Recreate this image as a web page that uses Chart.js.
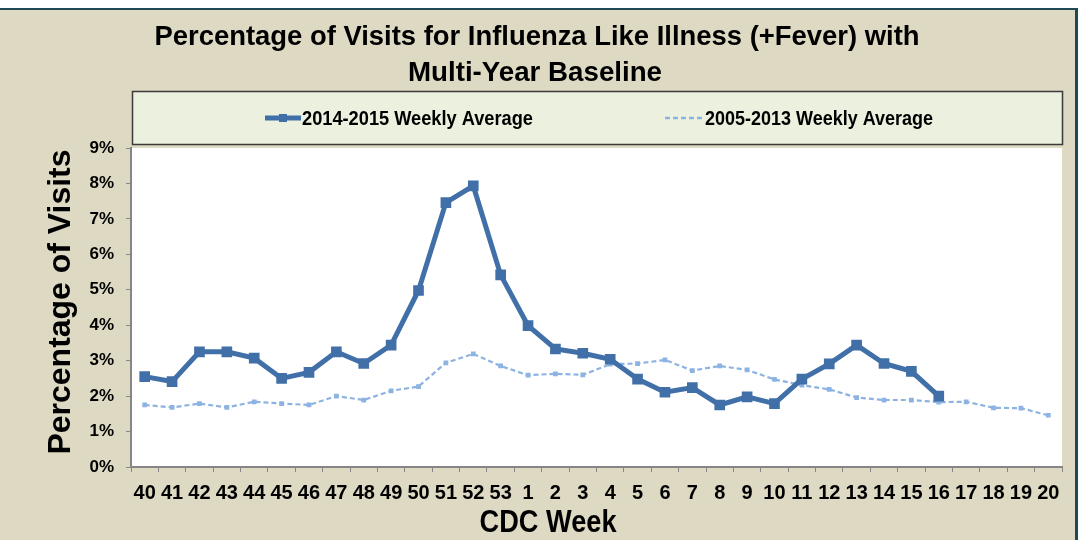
<!DOCTYPE html>
<html><head><meta charset="utf-8">
<script src="https://cdn.jsdelivr.net/npm/chart.js@4.4.1/dist/chart.umd.min.js"></script>
<style>html,body{margin:0;padding:0;background:#fff;overflow:hidden}#wrap{width:1080px;height:540px;position:relative}</style>
</head><body><div id="wrap"><canvas id="c" width="1080" height="540"></canvas></div>
<script>
const weeks = ['40','41','42','43','44','45','46','47','48','49','50','51','52','53','1','2','3','4','5','6','7','8','9','10','11','12','13','14','15','16','17','18','19','20'];
const season2014 = [2.55,2.41,3.25,3.25,3.07,2.50,2.67,3.25,2.92,3.44,4.98,7.46,7.93,5.42,3.99,3.33,3.21,3.04,2.48,2.11,2.24,1.75,1.98,1.79,2.48,2.91,3.44,2.92,2.70,2.00,null,null,null,null];
const baseline2005 = [1.75,1.68,1.79,1.68,1.84,1.79,1.75,2.00,1.89,2.15,2.27,2.94,3.19,2.85,2.59,2.63,2.60,2.90,2.92,3.02,2.72,2.85,2.74,2.47,2.31,2.19,1.96,1.89,1.89,1.83,1.84,1.67,1.66,1.46];
const seriesLabels = ['2014-2015 Weekly Average','2005-2013 Weekly Average'];
const titleLines = ['Percentage of Visits for Influenza Like Illness (+Fever) with','Multi-Year Baseline'];
const yTitle = 'Percentage of Visits';
const xTitle = 'CDC Week';

const NARROW = '"Liberation Sans Narrow","Arial Narrow","Liberation Sans",Arial,sans-serif';
const WIDE = '"Liberation Sans",Arial,sans-serif';
const SOLID = '#4170A8';
const DASH = '#8DB3E2';

function fitText(ctx, text, x, y, w, font, align, rot) {
  ctx.save();
  ctx.font = font;
  const m = ctx.measureText(text).width;
  ctx.translate(x, y);
  if (rot) ctx.rotate(rot);
  ctx.scale(w / m, 1);
  ctx.textAlign = align || 'center';
  ctx.textBaseline = 'alphabetic';
  ctx.fillStyle = '#000';
  ctx.fillText(text, 0, 0);
  ctx.restore();
}

const deco = {
  id: 'deco',
  beforeDraw(chart) {
    const ctx = chart.ctx, a = chart.chartArea;
    ctx.save();
    ctx.fillStyle = '#DDD9C3';
    ctx.fillRect(0, 0, 1080, 540);
    ctx.fillStyle = '#FFFFFF';
    ctx.fillRect(0, 0, 1080, 8);
    ctx.fillRect(1078, 0, 2, 540);
    ctx.fillStyle = '#1F4A55';
    ctx.fillRect(0, 8, 1078, 2);
    ctx.fillRect(1075, 8, 3, 532);
    ctx.fillStyle = '#FFFFFF';
    ctx.fillRect(a.left, a.top, a.right - a.left, a.bottom - a.top);
    ctx.fillStyle = '#EBF1DE';
    ctx.fillRect(132, 91, 931, 54);
    ctx.strokeStyle = '#3A3A3A';
    ctx.lineWidth = 1.5;
    ctx.strokeRect(132.5, 91.5, 930, 53);
    ctx.restore();
  },
  afterDraw(chart) {
    const ctx = chart.ctx;
    fitText(ctx, titleLines[0], 537, 45, 765, 'bold 28px ' + NARROW);
    fitText(ctx, titleLines[1], 535, 81, 254, 'bold 28px ' + NARROW);
    ctx.save();
    ctx.strokeStyle = SOLID; ctx.lineWidth = 5; ctx.lineCap = 'butt';
    ctx.beginPath(); ctx.moveTo(265, 118); ctx.lineTo(301, 118); ctx.stroke();
    ctx.fillStyle = SOLID; ctx.fillRect(279, 114, 8, 8);
    ctx.strokeStyle = DASH; ctx.lineWidth = 2.5; ctx.setLineDash([5, 3]);
    ctx.beginPath(); ctx.moveTo(665, 118); ctx.lineTo(703, 118); ctx.stroke();
    ctx.restore();
    fitText(ctx, seriesLabels[0], 302, 125, 231, 'bold 21px ' + NARROW, 'left');
    fitText(ctx, seriesLabels[1], 705, 125, 228, 'bold 21px ' + NARROW, 'left');
    fitText(ctx, yTitle, 70, 302, 305, 'bold 31px ' + WIDE, 'center', -Math.PI / 2);
    fitText(ctx, xTitle, 548, 532, 137, 'bold 31px ' + NARROW);
  }
};

new Chart(document.getElementById('c'), {
  type: 'line',
  data: {
    labels: weeks,
    datasets: [
      { label: seriesLabels[1], data: baseline2005, borderColor: DASH, backgroundColor: DASH,
        borderWidth: 2.2, borderDash: [5, 3], pointStyle: 'rect', pointRadius: 1.8, tension: 0, order: 2 },
      { label: seriesLabels[0], data: season2014, borderColor: SOLID, backgroundColor: SOLID,
        borderWidth: 5, pointStyle: 'rect', pointRadius: 4, tension: 0, spanGaps: false, order: 1 }
    ]
  },
  options: {
    responsive: false, animation: false, devicePixelRatio: 1,
    layout: { padding: { left: 0, right: 18, top: 148, bottom: 0 } },
    plugins: { legend: { display: false }, title: { display: false }, tooltip: { enabled: false } },
    scales: {
      x: {
        offset: true,
        grid: { display: true, drawOnChartArea: false, drawTicks: true, tickLength: 5, color: '#868686', offset: true },
        border: { color: '#868686', width: 2 },
        ticks: { color: '#000', font: { family: NARROW, weight: 'bold', size: 20 }, padding: 9, maxRotation: 0, autoSkip: false },
        afterFit(s) { s.height = 73; }
      },
      y: {
        min: 0, max: 9,
        grid: { display: true, drawOnChartArea: false, drawTicks: true, tickLength: 5, color: '#868686' },
        border: { color: '#868686', width: 2 },
        ticks: { stepSize: 1, color: '#000', font: { family: NARROW, weight: 'bold', size: 17 }, padding: 12,
          callback: v => v + '%' },
        afterFit(s) { s.width = 131; }
      }
    }
  },
  plugins: [deco]
});
</script>
</body></html>
